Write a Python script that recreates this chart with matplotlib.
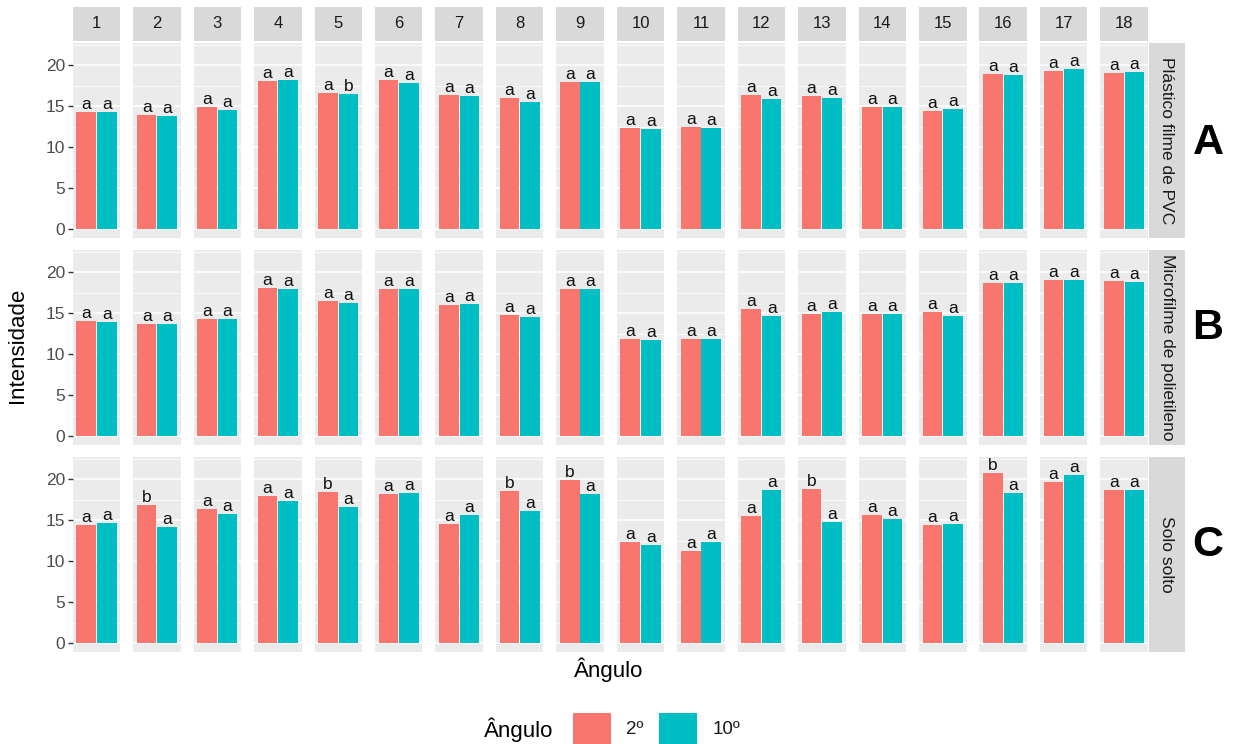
import matplotlib
matplotlib.use("Agg")
import matplotlib.pyplot as plt
from matplotlib.patches import Rectangle

plt.rcParams["font.family"] = ["Liberation Sans", "DejaVu Sans"]

# ---- data -------------------------------------------------------------
angulos = [str(i) for i in range(1, 19)]
series_labels = ["2º", "10º"]
colors = ["#F8766D", "#00BFC4"]

superficies = ["Plástico filme de PVC", "Microfilme de polietileno", "Solo solto"]
painel_tags = ["A", "B", "C"]

pvc_2 = [14.35, 13.9, 14.9, 18.05, 16.55, 18.2, 16.35, 15.95, 18.0,
         12.4, 12.5, 16.35, 16.2, 14.85, 14.45, 18.9, 19.3, 19.0]
pvc_10 = [14.25, 13.75, 14.6, 18.2, 16.45, 17.85, 16.2, 15.55, 18.0,
          12.25, 12.35, 15.85, 16.05, 14.85, 14.65, 18.85, 19.5, 19.2]
pvc_let_2 = ["a"] * 18
pvc_let_10 = ["a", "a", "a", "a", "b", "a", "a", "a", "a",
              "a", "a", "a", "a", "a", "a", "a", "a", "a"]

micro_2 = [14.1, 13.65, 14.35, 18.05, 16.45, 18.0, 16.05, 14.8, 17.9,
           11.9, 11.9, 15.5, 14.85, 14.85, 15.1, 18.65, 19.05, 18.9]
micro_10 = [13.95, 13.65, 14.35, 17.9, 16.2, 17.9, 16.1, 14.55, 18.0,
            11.75, 11.85, 14.65, 15.1, 14.95, 14.65, 18.65, 19.05, 18.75]
micro_let_2 = ["a"] * 18
micro_let_10 = ["a"] * 18

solo_2 = [14.45, 16.8, 16.4, 17.9, 18.45, 18.25, 14.5, 18.5, 19.9,
          12.4, 11.25, 15.55, 18.85, 15.6, 14.4, 20.7, 19.65, 18.7]
solo_10 = [14.65, 14.15, 15.75, 17.3, 16.55, 18.35, 15.6, 16.1, 18.2,
           11.95, 12.4, 18.7, 14.75, 15.15, 14.5, 18.35, 20.5, 18.7]
solo_let_2 = ["a", "b", "a", "a", "b", "a", "a", "b", "b",
              "a", "a", "a", "b", "a", "a", "b", "a", "a"]
solo_let_10 = ["a"] * 18

valores = [(pvc_2, pvc_10), (micro_2, micro_10), (solo_2, solo_10)]
letras = [(pvc_let_2, pvc_let_10), (micro_let_2, micro_let_10),
          (solo_let_2, solo_let_10)]

y_ticks = [0, 5, 10, 15, 20]

# ---- layout (pixels) ---------------------------------------------------
W, H = 1233, 744
fig = plt.figure(figsize=(W / 100, H / 100), dpi=100)


def fr(x, y, w, h):
    return [x / W, 1 - (y + h) / H, w / W, h / H]


col_left0, col_step, col_w = 72.7, 60.45, 47.5
row_top = [43, 250, 457]
row_h = 195

panel_bg = "#EBEBEB"
strip_bg = "#D9D9D9"
bar_w = 0.455
offs = [-0.2375, 0.2375]

for r in range(3):
    for c in range(18):
        x0 = col_left0 + c * col_step
        ax = fig.add_axes(fr(x0, row_top[r], col_w, row_h))
        ax.set_facecolor(panel_bg)
        ax.set_xlim(-0.55, 0.55)
        ax.set_ylim(-1.05, 22.7)
        for s in range(2):
            v = valores[r][s][c]
            ax.bar(offs[s], v, width=bar_w, color=colors[s], zorder=2)
            ax.annotate(letras[r][s][c], (offs[s], v), xytext=(0, 0.0),
                        textcoords="offset points", ha="center", va="bottom",
                        fontsize=12.5, color="#111111", zorder=3)
        ax.set_yticks(y_ticks)
        ax.set_yticks([2.5, 7.5, 12.5, 17.5, 22.5], minor=True)
        ax.set_xticks([])
        ax.grid(axis="y", which="major", color="white", lw=1.1, zorder=0)
        ax.grid(axis="y", which="minor", color="white", lw=0.55, zorder=0)
        ax.set_axisbelow(True)
        for sp in ax.spines.values():
            sp.set_visible(False)
        ax.tick_params(axis="y", which="minor", length=0)
        if c == 0:
            ax.tick_params(axis="y", which="major", length=3.5, width=1,
                           color="#333333", labelsize=12.5,
                           labelcolor="#4D4D4D", pad=2)
        else:
            ax.tick_params(axis="y", which="major", length=0,
                           labelleft=False)

        # column strips above the first row
        if r == 0:
            fig.patches.append(Rectangle((x0 / W, 1 - 40.5 / H), col_w / W,
                                         33.5 / H, transform=fig.transFigure,
                                         facecolor=strip_bg, edgecolor="none"))
            fig.text((x0 + col_w / 2) / W, 1 - 24 / H, angulos[c],
                     ha="center", va="center", fontsize=12, color="#1A1A1A")

    # row strips on the right
    sx, sw = 1149, 36
    fig.patches.append(Rectangle((sx / W, 1 - (row_top[r] + row_h) / H),
                                 sw / W, row_h / H, transform=fig.transFigure,
                                 facecolor=strip_bg, edgecolor="none"))
    fig.text((sx + sw / 2) / W, 1 - (row_top[r] + row_h / 2) / H,
             superficies[r], rotation=270, ha="center", va="center",
             fontsize=12.5, color="#1A1A1A")

# panel tags
tag_y = [143, 328, 545]
for r in range(3):
    fig.text(1208 / W, 1 - tag_y[r] / H, painel_tags[r], ha="center",
             va="center", fontsize=31, fontweight="bold", color="black")

# axis titles
fig.text(18 / W, 1 - 345 / H, "Intensidade", rotation=90, ha="center",
         va="center", fontsize=16, color="black")
fig.text(609 / W, 1 - 670 / H, "Ângulo", ha="center", va="center",
         fontsize=16, color="black")

# legend
fig.text(519 / W, 1 - 730 / H, "Ângulo", ha="center", va="center",
         fontsize=16, color="black")
key_x = [573, 659]
lab_x = [626, 713]
for s in range(2):
    fig.patches.append(Rectangle((key_x[s] / W, 1 - 748 / H), 38 / W, 35 / H,
                                 transform=fig.transFigure,
                                 facecolor=colors[s], edgecolor="none"))
    fig.text(lab_x[s] / W, 1 - 730 / H, series_labels[s], ha="left",
             va="center", fontsize=13.5, color="#1A1A1A")

fig.savefig("out.png", dpi=100)
